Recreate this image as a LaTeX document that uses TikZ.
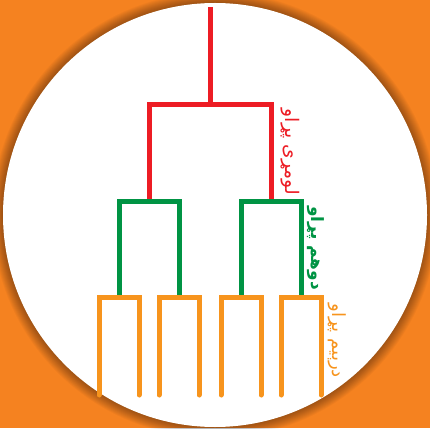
\documentclass[tikz,border=0pt]{standalone}
\usepackage{fontspec}
\newfontfamily\arabicfont[Script=Arabic]{DejaVu Sans}
\TeXXeTstate=1
\definecolor{bgorange}{HTML}{F58220}
\definecolor{stagered}{HTML}{ED1C24}
\definecolor{stagegreen}{HTML}{009444}
\definecolor{stageorange}{HTML}{F7941D}
\begin{document}
\begin{tikzpicture}[x=0.03cm, y=-0.03cm]
	\tikzset{branch/.style={line width=0.15cm, line join=miter},
		leaf/.style={branch, line cap=round},
		stagelabel/.style={rotate=-90, inner sep=0pt, font=\arabicfont\fontsize{16}{16}\selectfont}}
	% background and circle
	\fill[bgorange] (0,0) rectangle (430,428);
	\useasboundingbox (0,0) rectangle (430,428);
	\coordinate (c) at (215,215);
	\foreach \i in {1,...,12}
		\fill[black, opacity=0.03] (c) circle (212+\i*0.9);
	\fill[white] (c) circle (212);
	% joints
	\coordinate (top) at (210,7);
	\coordinate (r) at (210,105);
	\coordinate (g1) at (149,201.5);
	\coordinate (g2) at (271,201.5);
	\coordinate (o1) at (119,297.5);
	\coordinate (o2) at (179,297.5);
	\coordinate (o3) at (241,297.5);
	\coordinate (o4) at (301,297.5);
	% first stage
	\draw[branch, stagered] (top) -- (r);
	\draw[branch, stagered] (g1) |- (r) -| (g2);
	% second stage
	\draw[branch, stagegreen] (o1) |- (g1) -| (o2);
	\draw[branch, stagegreen] (o3) |- (g2) -| (o4);
	% third stage
	\foreach \o/\a/\b in {o1/99/139, o2/159/199, o3/221/261, o4/281/321}{
		\coordinate (\o l) at (\a,395);
		\coordinate (\o r) at (\b,395);
		\draw[leaf, stageorange] (\o l) |- (\o) -| (\o r);
	}
	% labels
	\node[stagelabel, text=stagered] (s1) at (290,152) {\beginR لومړی پړاو\endR};
	\node[stagelabel, text=stagegreen, font=\arabicfont\bfseries\fontsize{14.5}{14.5}\selectfont] (s2) at (316,248) {\beginR دوهم پړاو\endR};
	\node[stagelabel, text=stageorange, font=\arabicfont\fontsize{15.5}{15.5}\selectfont] (s3) at (337,341) {\beginR درېیم پړاو\endR};
\end{tikzpicture}
\end{document}
